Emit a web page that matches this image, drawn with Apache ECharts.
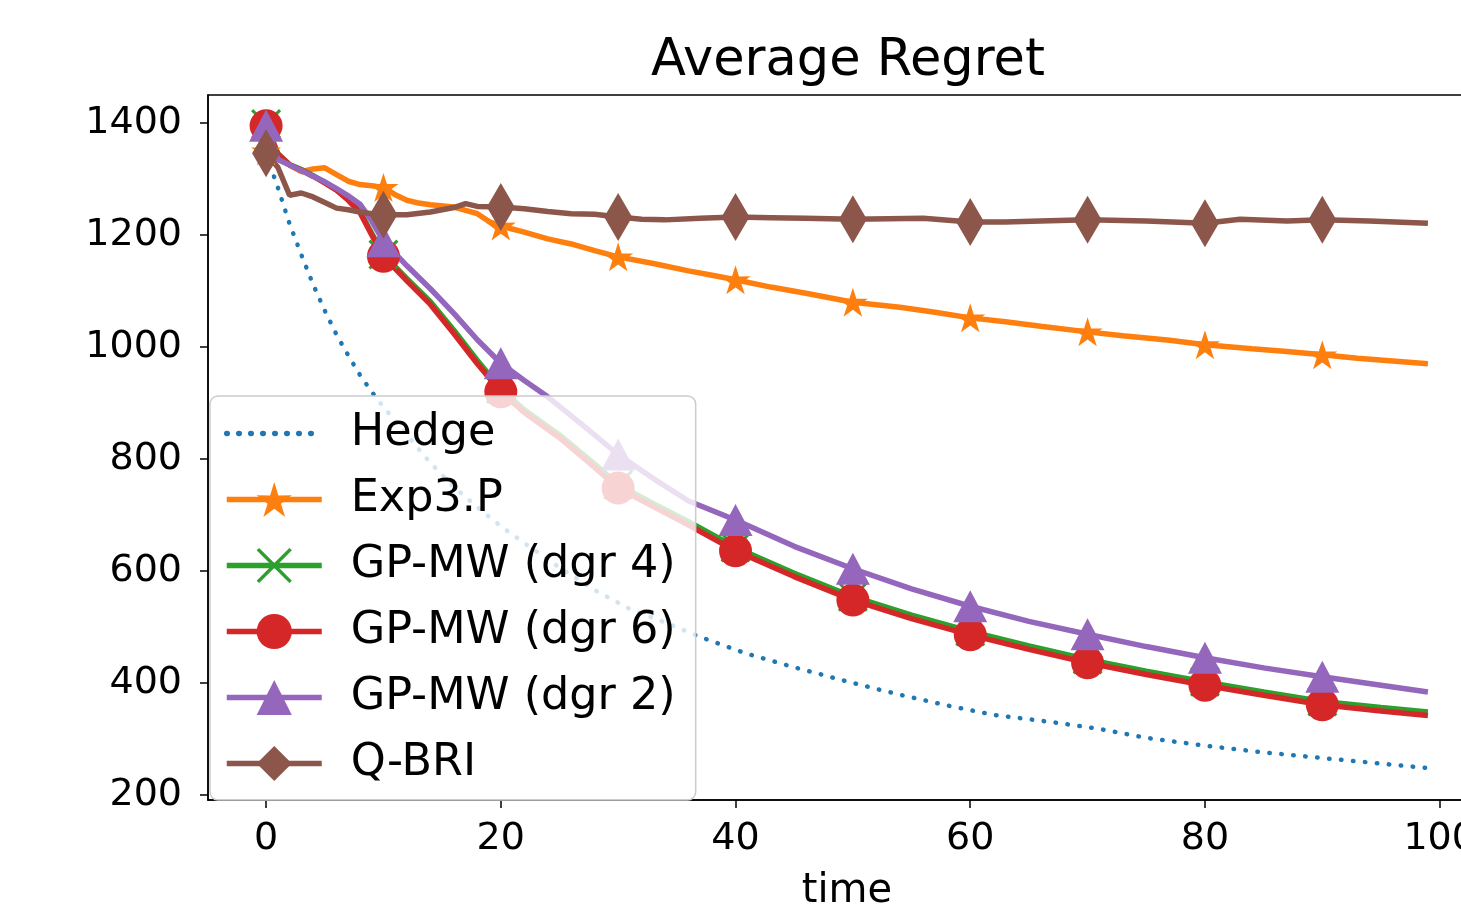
<!DOCTYPE html>
<html lang="en">
<head>
  <meta charset="UTF-8">
  <title>Average Regret</title>
  <script src="https://cdn.jsdelivr.net/npm/echarts@6/dist/echarts.min.js"></script>
  <style>
    html, body { margin: 0; padding: 0; background: #fff; overflow: hidden; }
  </style>
</head>
<body>
  <!-- wider than the window on purpose: the right edge of the axes is cut off -->
  <div id="app" style="width: 1520px; height: 904px;"></div>
  <script>
    // values, [time, regret]
    var hedge = [[0,1345],[1,1285],[2,1220],[3,1165],[4,1112],[5,1065],[6,1022],[7,985],[8,950],[9,920],[10,893],
      [12,843],[14,793],[16,750],[18,714],[20,680],[22,650],[25,606],[28,566],[31,532],[34,508],[37,482],[41,452],
      [45,428],[50,400],[54,379],[58,360],[62,343],[67,330],[71,318],[75,302],[80,288],[85,276],[90,266],[95,256],[99,248]]
    var exp3p = [[0,1350],[1,1338],[2,1325],[3,1313],[4,1318],[5,1320],[6,1308],[7,1296],[8,1290],[9,1288],[10,1285],
      [11,1272],[12,1262],[13,1257],[14,1254],[16,1250],[17,1244],[18,1238],[19,1224],[20,1216],[22,1205],[24,1193],
      [26,1184],[28,1172],[30,1161],[33,1149],[36,1136],[38,1128],[40,1120],[43,1107],[46,1096],[50,1080],[54,1071],
      [57,1062],[60,1052],[63,1045],[66,1037],[70,1027],[73,1020],[77,1012],[80,1004],[84,997],[87,992],[90,986],
      [93,980],[96,975],[99,970]]
    var gpDgr4 = [[0,1398],[1,1345],[2,1326],[3,1317],[4,1306],[5,1294],[6,1281],[7,1264],[8,1242],[9,1203],[10,1165],
      [12,1122],[14,1081],[16,1030],[18,976],[20,925],[22,888],[25,843],[28,791],[30,754],[33,720],[36,688],[40,642],
      [45,596],[50,554],[55,521],[60,492],[65,466],[70,442],[75,421],[80,402],[85,384],[90,367],[95,356],[99,348]]
    var gpDgr6 = [[0,1395],[1,1345],[2,1325],[3,1316],[4,1305],[5,1293],[6,1280],[7,1262],[8,1240],[9,1200],[10,1162],
      [12,1118],[14,1076],[16,1024],[18,970],[20,920],[22,883],[25,838],[28,785],[30,748],[33,715],[36,682],[40,636],
      [45,590],[50,548],[55,515],[60,486],[65,460],[70,436],[75,415],[80,396],[85,378],[90,361],[95,350],[99,342]]
    var gpDgr2 = [[0,1395],[1,1335],[2,1325],[3,1315],[4,1305],[5,1295],[6,1283],[7,1270],[8,1255],[9,1225],[10,1189],
      [12,1145],[14,1104],[16,1060],[18,1013],[20,971],[22,940],[24,911],[27,860],[30,808],[33,765],[36,725],[40,691],
      [45,644],[50,604],[55,568],[60,537],[65,510],[70,487],[75,465],[80,445],[85,427],[90,411],[95,396],[99,384]]
    var qbri = [[0,1346],[1,1321],[2,1271],[3,1275],[4,1268],[5,1258],[6,1248],[7,1245],[8,1241],[9,1238],[10,1236],
      [12,1236],[14,1241],[16,1249],[17,1256],[18,1251],[20,1250],[22,1247],[24,1242],[26,1238],[28,1237],[30,1232],
      [32,1228],[34,1227],[37,1230],[40,1232],[43,1231],[46,1230],[50,1228],[53,1229],[56,1230],[60,1223],[63,1223],
      [66,1225],[70,1227],[75,1225],[80,1221],[83,1228],[87,1225],[90,1227],[94,1225],[99,1221]]

    var xTicks = [0, 20, 40, 60, 80, 100]
    var yTicks = [200, 400, 600, 800, 1000, 1200, 1400]

    var starPath = 'path://M50 0 L61.17 34.63 L97.55 34.55 L68.07 55.87 L79.39 90.45 L50 69 L20.61 90.45 L31.93 55.87 L2.45 34.55 L38.83 34.63 Z'
    var crossPath = 'path://M0 7 L7 0 L50 43 L93 0 L100 7 L57 50 L100 93 L93 100 L50 57 L7 100 L0 93 L43 50 Z'
    var font = 'DejaVu Sans'

    // markers every 10 steps, like markevery=10
    function every10(size) {
      return function (val) {
        return val[0] % 10 === 0 ? size : 0
      }
    }

    function lineSeries(name, data, color, symbol, size) {
      return {
        name: name,
        type: 'line',
        data: data,
        symbol: symbol,
        symbolSize: every10(size),
        showAllSymbol: true,
        color: color,
        itemStyle: { color: color },
        lineStyle: { color: color, width: 5.5 },
        emphasis: { disabled: true },
        animation: false
      }
    }

    var app = document.querySelector('#app')
    var mCharts = echarts.init(app)

    var option = {
      backgroundColor: '#fff',
      title: {
        text: 'Average Regret',
        left: 843,
        top: 31,
        textAlign: 'center',
        textStyle: { fontFamily: font, fontSize: 51, fontWeight: 'normal', color: '#000' }
      },
      grid: {
        left: 208,
        top: 95,
        width: 1278,
        height: 705,
        outerBoundsMode: 'none',
        containLabel: false,
        show: true,
        borderColor: '#000',
        borderWidth: 1.5,
        backgroundColor: '#fff'
      },
      legend: {
        orient: 'vertical',
        left: 210,
        top: 396,
        padding: [15, 20, 14, 14],
        itemWidth: 95,
        itemHeight: 44,
        itemGap: 21,
        backgroundColor: 'rgba(255,255,255,0.8)',
        borderColor: '#cccccc',
        borderWidth: 1.5,
        borderRadius: 8,
        selectedMode: false,
        lineStyle: { width: 5.5 },
        textStyle: { fontFamily: font, fontSize: 44.5, color: '#000', lineHeight: 44, padding: [0, 0, 0, 24] },
        data: [
          { name: 'Hedge', itemStyle: { opacity: 0 } },
          'Exp3.P', 'GP-MW (dgr 4)', 'GP-MW (dgr 6)', 'GP-MW (dgr 2)', 'Q-BRI'
        ]
      },
      xAxis: {
        type: 'value',
        min: -4.95,
        max: 103.95,
        name: 'time',
        nameLocation: 'middle',
        nameGap: 72,
        nameTextStyle: { fontFamily: font, fontSize: 40, color: '#000' },
        splitLine: { show: false },
        axisLine: { show: true, onZero: false, lineStyle: { color: '#000', width: 1.5 } },
        axisTick: { show: true, length: 8, lineStyle: { color: '#000', width: 1.5 }, customValues: xTicks },
        axisLabel: { fontFamily: font, fontSize: 38, color: '#000', margin: 20, customValues: xTicks }
      },
      yAxis: {
        type: 'value',
        min: 191,
        max: 1450,
        splitLine: { show: false },
        axisLine: { show: true, onZero: false, lineStyle: { color: '#000', width: 1.5 } },
        axisTick: { show: true, length: 8, lineStyle: { color: '#000', width: 1.5 }, customValues: yTicks },
        axisLabel: {
          fontFamily: font, fontSize: 38, color: '#000', margin: 26, customValues: yTicks,
          formatter: function (v) { return String(v) }
        }
      },
      series: [
        {
          name: 'Hedge',
          type: 'line',
          data: hedge,
          symbol: 'none',
          color: '#1f77b4',
          lineStyle: { color: '#1f77b4', width: 4.5, type: [0.5, 11.5], cap: 'round' },
          emphasis: { disabled: true },
          animation: false
        },
        lineSeries('Exp3.P', exp3p, '#ff7f0e', starPath, [30, 29]),
        lineSeries('GP-MW (dgr 4)', gpDgr4, '#2ca02c', crossPath, 30),
        lineSeries('GP-MW (dgr 6)', gpDgr6, '#d62728', 'circle', 33),
        lineSeries('GP-MW (dgr 2)', gpDgr2, '#9467bd', 'triangle', [34, 32]),
        lineSeries('Q-BRI', qbri, '#8c564b', 'diamond', [28, 48])
      ]
    }
    mCharts.setOption(option)
  </script>
</body>
</html>
